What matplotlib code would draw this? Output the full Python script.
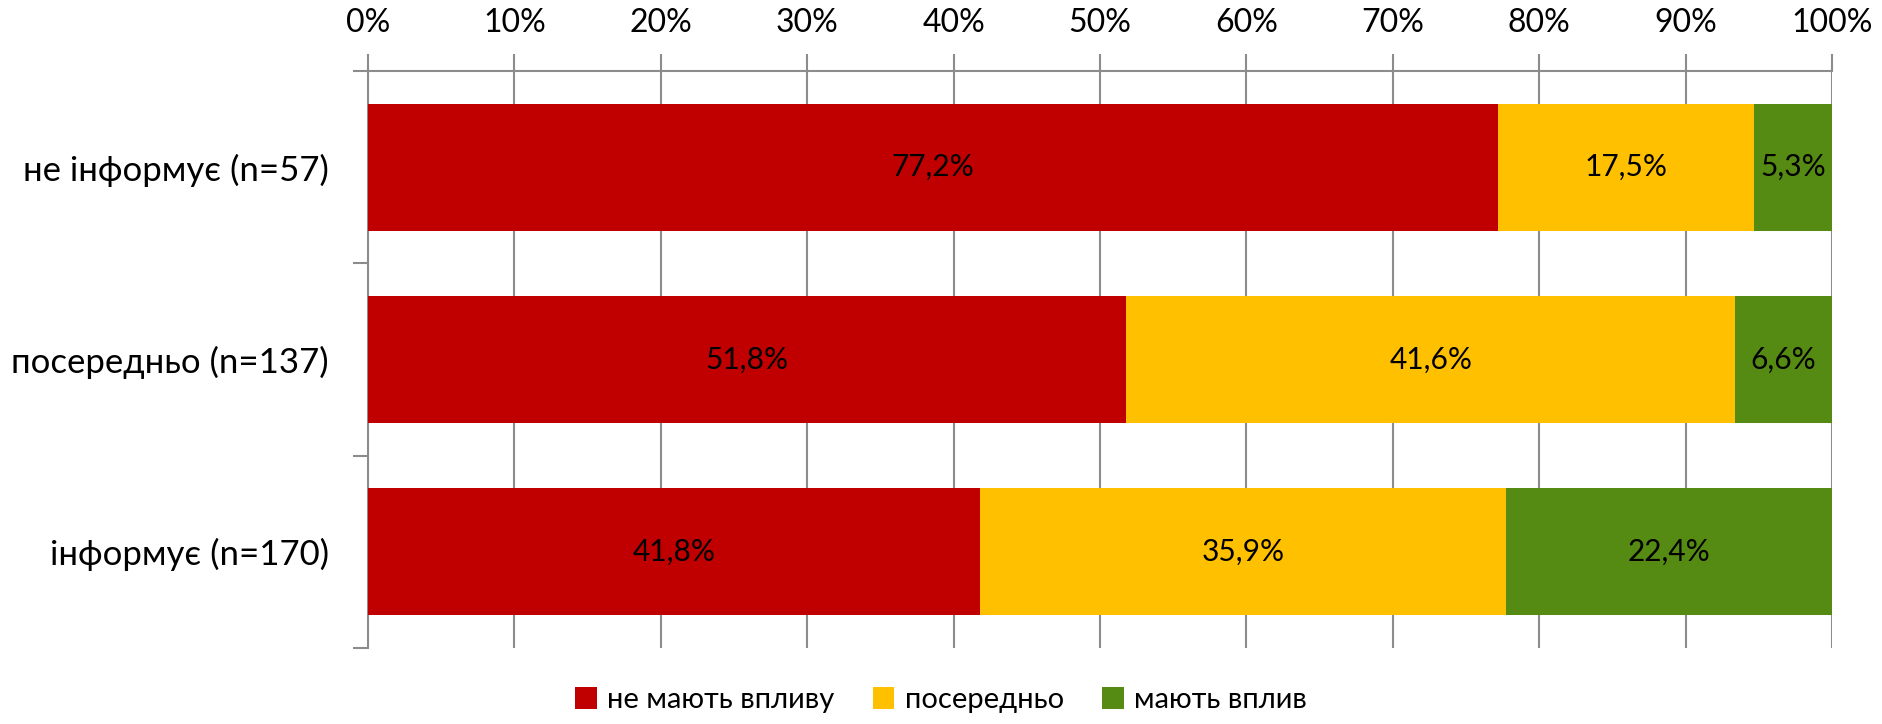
import matplotlib.pyplot as plt
import numpy as np

categories = ['не інформує (n=57)', 'посередньо (n=137)', 'інформує (n=170)']
no_effect = [77.2, 51.8, 41.8]
medium = [17.5, 41.6, 35.9]
effect = [5.3, 6.6, 22.4]
series_names = ['не мають впливу', 'посередньо', 'мають вплив']
colors = ['#C00000', '#FFC000', '#558B13']
ticks = list(range(0, 101, 10))

plt.rcParams['font.family'] = ['Lato', 'DejaVu Sans']

fig = plt.figure(figsize=(18.82, 7.24), dpi=100)
ax = fig.add_axes([368 / 1882, 1 - 648 / 724, (1832 - 368) / 1882, (648 - 71) / 724])

y = np.arange(len(categories))
left = np.zeros(len(categories))
for vals, name, c in zip([no_effect, medium, effect], series_names, colors):
    bars = ax.barh(y, vals, left=left, height=0.66, color=c, label=name, zorder=3)
    for b, v in zip(bars, vals):
        ax.text(b.get_x() + b.get_width() / 2, b.get_y() + b.get_height() / 2,
                f'{v:.1f}%'.replace('.', ','), ha='center', va='center',
                fontsize=21.5, color='black', zorder=4)
    left += np.array(vals)

ax.set_xlim(0, 100)
ax.set_ylim(len(categories) - 0.5, -0.5)
ax.xaxis.tick_top()
ax.set_xticks(ticks)
ax.set_xticklabels([f'{t}%' for t in ticks], fontsize=23)
ax.tick_params(axis='x', length=12, width=1.5, color='#8C8C8C', pad=12)
ax.grid(axis='x', color='#8C8C8C', linewidth=1.5, zorder=0)

ax.set_yticks(y)
ax.set_yticklabels(categories, fontsize=25)
ax.set_yticks(np.arange(-0.5, len(categories)), minor=True)
ax.tick_params(axis='y', which='major', length=0, pad=28)
ax.tick_params(axis='y', which='minor', length=11, width=1.5, color='#8C8C8C')

for s in ['right', 'bottom']:
    ax.spines[s].set_visible(False)
for s in ['left', 'top']:
    ax.spines[s].set_color('#8C8C8C')
    ax.spines[s].set_linewidth(1.5)

fig.legend(loc='center', bbox_to_anchor=(0.5, 1 - 700 / 724), ncol=3, frameon=False,
           fontsize=21, handlelength=0.75, handleheight=0.75, columnspacing=1.3,
           handletextpad=0.35)

fig.savefig('out.png', dpi=100)
